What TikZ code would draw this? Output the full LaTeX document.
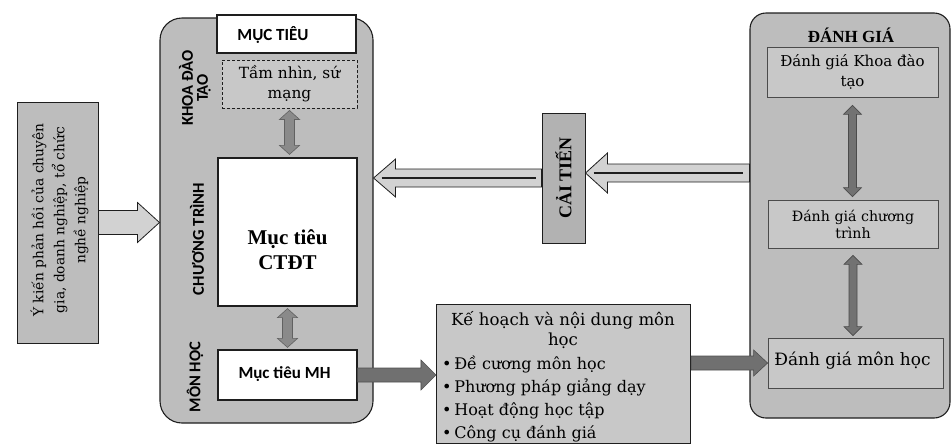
\documentclass[tikz,border=0pt]{standalone}
\usepackage{fontspec}
\setmainfont{DejaVu Serif}
\newfontfamily\timesfont{Liberation Serif}
\newfontfamily\calfont{Carlito}
\usetikzlibrary{calc}
\definecolor{panelgray}{HTML}{BDBDBD}
\definecolor{boxgray}{HTML}{C8C8C8}
\definecolor{arrowgray}{HTML}{8A8A8A}
\definecolor{dgarrow}{HTML}{727272}
\definecolor{darkarrow}{HTML}{707070}
\definecolor{lightarrow}{HTML}{D2D2D2}
\definecolor{caigray}{HTML}{B2B2B2}
\definecolor{edge}{HTML}{1E1E1E}

\newcommand{\RArrow}[6]{\draw[#1] let \p1=#2, \p2=#3 in
  (\x1,\y1+#4) -- (\x2-#6,\y1+#4) -- (\x2-#6,\y1+#5) -- (\x2,\y1) --
  (\x2-#6,\y1-#5) -- (\x2-#6,\y1-#4) -- (\x1,\y1-#4) -- cycle;}
\newcommand{\LArrow}[6]{\draw[#1] let \p1=#2, \p2=#3 in
  (\x1,\y1+#4) -- (\x2+#6,\y1+#4) -- (\x2+#6,\y1+#5) -- (\x2,\y1) --
  (\x2+#6,\y1-#5) -- (\x2+#6,\y1-#4) -- (\x1,\y1-#4) -- cycle;}
\newcommand{\VDArrow}[6]{\draw[#1] let \p1=#2, \p2=#3 in
  (\x1,\y1) -- (\x1+#5,\y1-#6) -- (\x1+#4,\y1-#6) -- (\x1+#4,\y2+#6) --
  (\x1+#5,\y2+#6) -- (\x1,\y2) -- (\x1-#5,\y2+#6) -- (\x1-#4,\y2+#6) --
  (\x1-#4,\y1-#6) -- (\x1-#5,\y1-#6) -- cycle;}

\begin{document}
\begin{tikzpicture}[x=1pt,y=-1pt,
  panel/.style={draw=edge, line width=1.1pt, fill=panelgray},
  whitebox/.style={draw=edge, line width=1.2pt, fill=white, inner sep=0pt},
  graybox/.style={draw=edge, line width=0.9pt, densely dashed, fill=boxgray, inner sep=0pt},
  dgbox/.style={draw=edge!80, line width=0.8pt, fill=boxgray, inner sep=0pt},
  sidelabel/.style={rotate=90, font=\calfont\bfseries\fontsize{16.5}{15}\selectfont, align=center, inner sep=0pt},
  outlinearrow/.style={draw=edge, line width=0.8pt, fill=lightarrow},
  solidarrow/.style={draw=darkarrow!70!black, line width=0.6pt, fill=darkarrow},
  smallarrow/.style={draw=edge!70, line width=0.6pt, fill=arrowgray},
  dgsmallarrow/.style={draw=edge!80, line width=0.6pt, fill=dgarrow},
  centerline/.style={draw=edge, line width=1.1pt}
]
\useasboundingbox (0,0) rectangle (952,445);

% feedback box
\node[panel, line width=1pt, minimum width=81pt, minimum height=241pt, inner sep=0pt] (fb) at (57.5,222.5) {};
\node[rotate=90, align=center, font=\fontsize{13.8}{21}\selectfont] (fbtext) at (59.5,220)
  {Ý kiến phản hồi của chuyên\\gia, doanh nghiệp, tổ chức\\nghề nghiệp};

% left big panel
\node[panel, rounded corners=22pt, minimum width=213pt, minimum height=405pt, inner sep=0pt] (panel) at (266.5,220.5) {};
\node[sidelabel] (lkhoa) at (195,88) {KHOA ĐÀO\\TẠO};
\node[sidelabel] (lct) at (197,239) {CHƯƠNG TRÌNH};
\node[sidelabel] (lmh) at (195,377) {MÔN HỌC};

% right big panel
\node[panel, rounded corners=16pt, minimum width=200pt, minimum height=405pt, inner sep=0pt] (dg) at (850,215.5) {};
\node[font=\timesfont\bfseries\fontsize{17}{19}\selectfont] (dgtitle) at (851,35) {ĐÁNH GIÁ};

% CAI TIEN box
\node[draw=edge, line width=1pt, fill=caigray, minimum width=43pt, minimum height=130pt, inner sep=0pt] (cai) at (563.5,178) {};
\node[rotate=90, font=\timesfont\bfseries\fontsize{18}{20}\selectfont] (caitext) at (cai.center) {CẢI TIẾN};

% plan box
\node[draw=edge, line width=1.1pt, fill=boxgray, minimum width=254pt, minimum height=139pt, inner sep=0pt] (kh) at (563.5,374) {};
\node[align=center, font=\fontsize{16.6}{20}\selectfont] (khtitle) at (563,330) {Kế hoạch và nội dung môn\\học};
\node[align=left, anchor=west, font=\fontsize{16}{23}\selectfont, inner sep=0pt] (khlist) at (442,399)
  {•\,Đề cương môn học\\•\,Phương pháp giảng dạy\\•\,Hoạt động học tập\\•\,Công cụ đánh giá};

% inner boxes of left panel
\node[whitebox, minimum width=139pt, minimum height=38pt] (muctieu) at (286.5,34) {};
\node[font=\calfont\bfseries\fontsize{17}{19}\selectfont] (muctieutext) at (273,35) {MỤC TIÊU};
\node[graybox, minimum width=135pt, minimum height=48pt, align=center, font=\fontsize{15.4}{20}\selectfont] (tamnhin) at (289.5,84) {Tầm nhìn, sứ\\mạng};
\node[whitebox, minimum width=139pt, minimum height=148pt] (ctdt) at (287.5,232) {};
\node[align=center, font=\timesfont\bfseries\fontsize{21}{25}\selectfont] (ctdttext) at (287.5,250) {Mục tiêu\\CTĐT};
\node[whitebox, minimum width=139pt, minimum height=50pt] (mh) at (287.5,375) {};
\node[font=\calfont\bfseries\fontsize{17}{19}\selectfont] (mhtext) at (284.5,374) {Mục tiêu MH};

% inner boxes of right panel
\node[dgbox, minimum width=171pt, minimum height=50pt, align=center, font=\fontsize{15}{20}\selectfont] (dg1) at (852.5,72) {Đánh giá Khoa đào\\tạo};
\node[dgbox, minimum width=170pt, minimum height=48pt, align=center, font=\fontsize{14.2}{17}\selectfont] (dg2) at (853,224) {Đánh giá chương\\trình};
\node[dgbox, minimum width=175pt, minimum height=50pt] (dg3) at (855.5,363) {};
\node[font=\fontsize{17}{20}\selectfont] (dg3text) at (852.5,361) {Đánh giá môn học};

% connectors
\RArrow{outlinearrow}{(fb.east)}{(panel.west)}{12pt}{20pt}{22pt}
\LArrow{outlinearrow}{(cai.west)}{(panel.east)}{9pt}{19pt}{22pt}
\draw[centerline] let \p1=(cai.west), \p2=(panel.east) in (\x2+8pt,\y1) -- (\x1-6pt,\y1);
\LArrow{outlinearrow}{($(dg.west |- cai.east)+(0,-5)$)}{($(cai.east)+(0,-5)$)}{9pt}{20pt}{22pt}
\draw[centerline] let \p1=($(dg.west |- cai.east)+(0,-5)$), \p2=(cai.east) in (\x2+8pt,\y1) -- (\x1-6pt,\y1);
\RArrow{solidarrow}{(mh.east)}{(kh.west)}{7pt}{15pt}{15pt}
\RArrow{solidarrow}{(kh.east |- dg3.west)}{(dg3.west)}{7pt}{13pt}{14pt}
\VDArrow{smallarrow}{($(tamnhin.south)+(0,2)$)}{($(ctdt.north)+(0,-3)$)}{5pt}{10pt}{9pt}
\VDArrow{smallarrow}{($(ctdt.south)+(0,2)$)}{($(mh.north)+(0,-2)$)}{5pt}{10pt}{9pt}
\VDArrow{dgsmallarrow}{($(dg1.south)+(0,8)$)}{($(dg2.north)+(0,-3)$)}{4pt}{9pt}{9pt}
\VDArrow{dgsmallarrow}{($(dg2.south)+(0,7)$)}{($(dg3.north)+(0,-2)$)}{4pt}{9pt}{9pt}
\end{tikzpicture}
\end{document}
